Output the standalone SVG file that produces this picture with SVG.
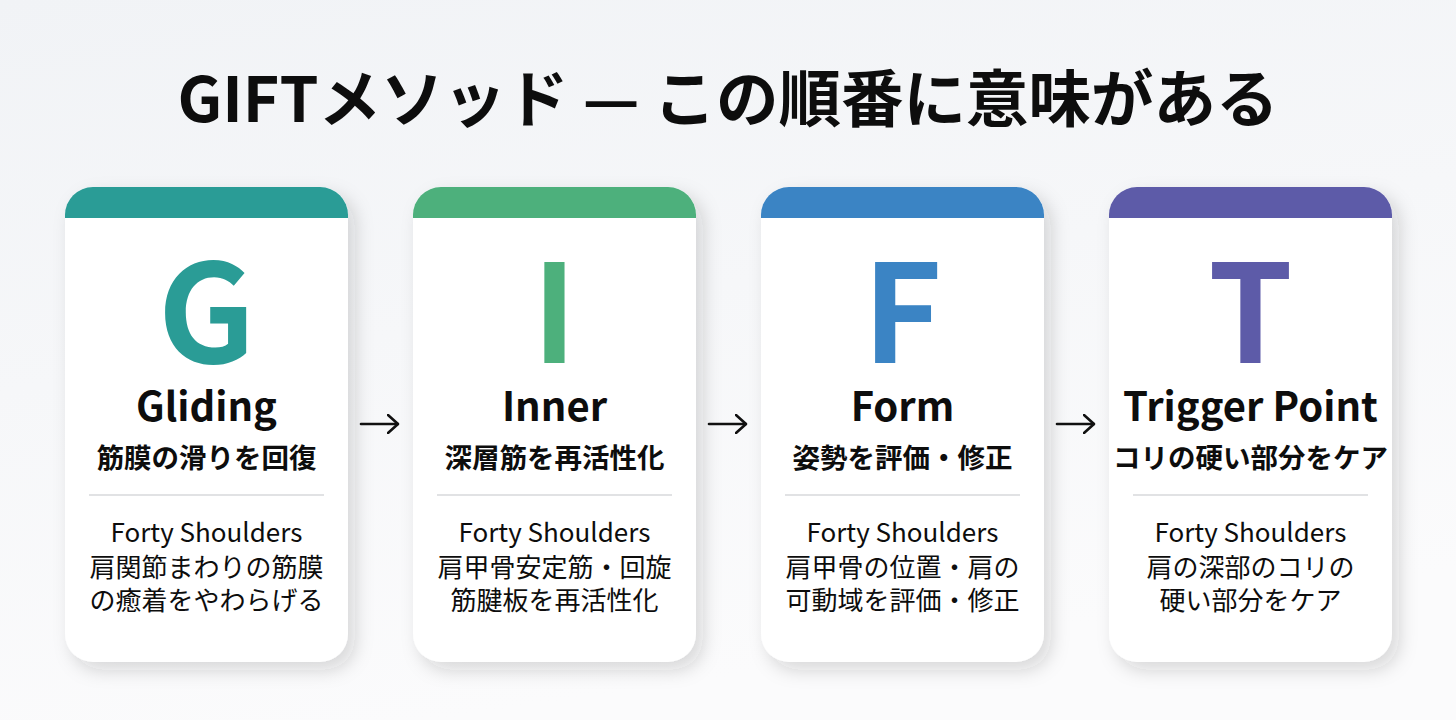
<svg xmlns="http://www.w3.org/2000/svg" width="1456" height="720" viewBox="0 0 1456 720">
  <defs>
    <linearGradient id="bg" x1="0" y1="0" x2="0.3" y2="1">
      <stop offset="0" stop-color="#F1F3F6"/>
      <stop offset="1" stop-color="#FBFBFC"/>
    </linearGradient>
    <filter id="shadow" x="-20%" y="-20%" width="150%" height="140%">
      <feDropShadow dx="7" dy="8" stdDeviation="9" flood-color="#1A2530" flood-opacity="0.17"/>
    </filter>
    <clipPath id="cardclip">
      <rect x="0" y="0" width="283" height="475" rx="28" ry="28"/>
    </clipPath>
    <marker id="arrow" viewBox="0 0 12 20" refX="11" refY="10" markerWidth="12" markerHeight="20" markerUnits="userSpaceOnUse" orient="auto">
      <path d="M1,1 L11,10 L1,19" fill="none" stroke="#111" stroke-width="2.6" stroke-linecap="round" stroke-linejoin="round"/>
    </marker>
  </defs>
  <style>
    text { font-family: "Noto Sans CJK JP", "Noto Sans", sans-serif; text-anchor: middle; fill: #0D0D0D; }
    .title { font-size: 62.5px; font-weight: 700; }
    .letter { font-size: 136px; font-weight: 700; }
    .name { font-size: 40px; font-weight: 700; }
    .sub { font-size: 27.5px; font-weight: 700; }
    .desc { font-size: 26px; font-weight: 400; }
    .eng { font-size: 26px; font-weight: 400; }
    .card { fill: #FFFFFF; filter: url(#shadow); }
    .divider { stroke: #C4C6CA; stroke-width: 1.2; }
    .conn { stroke: #111; stroke-width: 2.6; fill: none; stroke-linecap: round; }
  </style>

  <rect x="0" y="0" width="1456" height="720" fill="url(#bg)"/>

  <text class="title" x="728" y="122">GIFTメソッド — この順番に意味がある</text>

  <g id="card-G" transform="translate(65,187)">
    <rect class="card" x="0" y="0" width="283" height="475" rx="28" ry="28"/>
    <rect x="0" y="0" width="283" height="31" fill="#2A9C96" clip-path="url(#cardclip)"/>
    <text class="letter" x="141.5" y="176" style="fill:#2A9C96">G</text>
    <text class="name" x="141.5" y="234">Gliding</text>
    <text class="sub" x="141.5" y="281">筋膜の滑りを回復</text>
    <line class="divider" x1="24" y1="308" x2="259" y2="308"/>
    <text class="eng" x="141.5" y="355">Forty Shoulders</text>
    <text class="desc" x="141.5" y="390">肩関節まわりの筋膜</text>
    <text class="desc" x="141.5" y="423">の癒着をやわらげる</text>
  </g>

  <g id="card-I" transform="translate(413,187)">
    <rect class="card" x="0" y="0" width="283" height="475" rx="28" ry="28"/>
    <rect x="0" y="0" width="283" height="31" fill="#4DB07C" clip-path="url(#cardclip)"/>
    <text class="letter" x="141.5" y="176" style="fill:#4DB07C">I</text>
    <text class="name" x="141.5" y="234">Inner</text>
    <text class="sub" x="141.5" y="281">深層筋を再活性化</text>
    <line class="divider" x1="24" y1="308" x2="259" y2="308"/>
    <text class="eng" x="141.5" y="355">Forty Shoulders</text>
    <text class="desc" x="141.5" y="390">肩甲骨安定筋・回旋</text>
    <text class="desc" x="141.5" y="423">筋腱板を再活性化</text>
  </g>

  <g id="card-F" transform="translate(761,187)">
    <rect class="card" x="0" y="0" width="283" height="475" rx="28" ry="28"/>
    <rect x="0" y="0" width="283" height="31" fill="#3B84C4" clip-path="url(#cardclip)"/>
    <text class="letter" x="141.5" y="176" style="fill:#3B84C4">F</text>
    <text class="name" x="141.5" y="234">Form</text>
    <text class="sub" x="141.5" y="281">姿勢を評価・修正</text>
    <line class="divider" x1="24" y1="308" x2="259" y2="308"/>
    <text class="eng" x="141.5" y="355">Forty Shoulders</text>
    <text class="desc" x="141.5" y="390">肩甲骨の位置・肩の</text>
    <text class="desc" x="141.5" y="423">可動域を評価・修正</text>
  </g>

  <g id="card-T" transform="translate(1109,187)">
    <rect class="card" x="0" y="0" width="283" height="475" rx="28" ry="28"/>
    <rect x="0" y="0" width="283" height="31" fill="#5D5BA8" clip-path="url(#cardclip)"/>
    <text class="letter" x="141.5" y="176" style="fill:#5D5BA8">T</text>
    <text class="name" x="141.5" y="234">Trigger Point</text>
    <text class="sub" x="141.5" y="281">コリの硬い部分をケア</text>
    <line class="divider" x1="24" y1="308" x2="259" y2="308"/>
    <text class="eng" x="141.5" y="355">Forty Shoulders</text>
    <text class="desc" x="141.5" y="390">肩の深部のコリの</text>
    <text class="desc" x="141.5" y="423">硬い部分をケア</text>
  </g>

  <g id="connectors">
    <line class="conn" x1="361" y1="424" x2="398" y2="424" marker-end="url(#arrow)"/>
    <line class="conn" x1="709" y1="424" x2="746" y2="424" marker-end="url(#arrow)"/>
    <line class="conn" x1="1057" y1="424" x2="1094" y2="424" marker-end="url(#arrow)"/>
  </g>
</svg>
